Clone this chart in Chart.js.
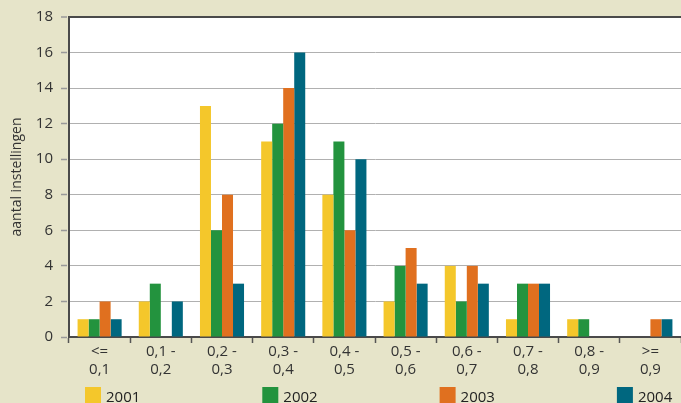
<!DOCTYPE html>
<html>
<head>
<meta charset="utf-8">
<script src="https://cdn.jsdelivr.net/npm/chart.js"></script>
<style>
  body { margin: 0; background: #e6e4c9; overflow: hidden; }
  #wrap { width: 681px; height: 403px; }
</style>
</head>
<body>
<div id="wrap"><canvas id="grafiek"></canvas></div>
<script>
const categorieen = [["<=", "0,1"], ["0,1 -", "0,2"], ["0,2 -", "0,3"], ["0,3 -", "0,4"], ["0,4 -", "0,5"],
    ["0,5 -", "0,6"], ["0,6 -", "0,7"], ["0,7 -", "0,8"], ["0,8 -", "0,9"], [">=", "0,9"]];
const jaren = ["2001", "2002", "2003", "2004"];
const waarden2001 = [1, 2, 13, 11, 8, 2, 4, 1, 1, 0];
const waarden2002 = [1, 3, 6, 12, 11, 4, 2, 3, 1, 0];
const waarden2003 = [2, 0, 8, 14, 6, 5, 4, 3, 0, 1];
const waarden2004 = [1, 2, 3, 16, 10, 3, 3, 3, 0, 1];
const kleuren = ["#f4c72b", "#23933e", "#e0701f", "#00677f"];
const yMax = 18;
const yStap = 2;

const fontNaam = "'Open Sans', sans-serif";

// witte achtergrond voor het plotvlak
const plotvlakPlugin = {
    id: "plotvlak",
    beforeDraw(chart) {
        const a = chart.chartArea;
        const ctx = chart.ctx;
        ctx.save();
        ctx.fillStyle = "#ffffff";
        ctx.fillRect(a.left, a.top, a.right - a.left, a.bottom - a.top);
        ctx.restore();
    }
};

// legenda onderaan, verdeeld over de breedte
const legendaPlugin = {
    id: "legendaOnder",
    afterDraw(chart) {
        const ctx = chart.ctx;
        const links = chart.chartArea.left + 16;
        const stap = 177.3;
        ctx.save();
        ctx.font = "15px " + fontNaam;
        ctx.textBaseline = "alphabetic";
        ctx.textAlign = "left";
        chart.data.datasets.forEach((ds, i) => {
            const x = links + i * stap;
            ctx.fillStyle = ds.backgroundColor;
            ctx.fillRect(x, 387, 16, 18);
            ctx.fillStyle = "#222";
            ctx.fillText(ds.label, x + 21, 402);
        });
        ctx.restore();
    }
};

const reeksen = [waarden2001, waarden2002, waarden2003, waarden2004];

new Chart(document.getElementById("grafiek"), {
    type: "bar",
    data: {
        labels: categorieen,
        datasets: jaren.map((jaar, i) => ({
            label: jaar,
            data: reeksen[i],
            backgroundColor: kleuren[i],
            borderWidth: 0,
            categoryPercentage: 0.72,
            barPercentage: 1
        }))
    },
    options: {
        responsive: true,
        maintainAspectRatio: false,
        animation: false,
        layout: { padding: { top: 11, right: 0, bottom: 24, left: 0 } },
        plugins: {
            legend: { display: false },
            tooltip: { enabled: false }
        },
        scales: {
            x: {
                grid: {
                    offset: true,
                    drawOnChartArea: false,
                    tickLength: 6,
                    tickColor: "#555",
                    tickWidth: 1.5
                },
                border: { color: "#4a4a4a", width: 2 },
                ticks: {
                    padding: 0,
                    color: "#333",
                    font: { family: fontNaam, size: 15 }
                }
            },
            y: {
                min: 0,
                max: yMax,
                afterFit(scale) { scale.width = 69; },
                grid: {
                    color: c => (c.tick && c.tick.value === yMax) ? "#4a4a4a" : "#b0b0b0",
                    lineWidth: c => (c.tick && c.tick.value === yMax) ? 2 : 1,
                    tickLength: 8,
                    tickColor: "#999",
                    tickWidth: 1.5,
                    tickBorderDash: [6, 20]
                },
                border: { color: "#4a4a4a", width: 2 },
                ticks: {
                    stepSize: yStap,
                    padding: 8,
                    color: "#333",
                    font: { family: fontNaam, size: 15 }
                },
                title: {
                    display: true,
                    text: "aantal instellingen",
                    color: "#333",
                    padding: { top: 9, bottom: 0 },
                    font: { family: fontNaam, size: 14 }
                }
            }
        }
    },
    plugins: [plotvlakPlugin, legendaPlugin]
});
</script>
</body>
</html>
